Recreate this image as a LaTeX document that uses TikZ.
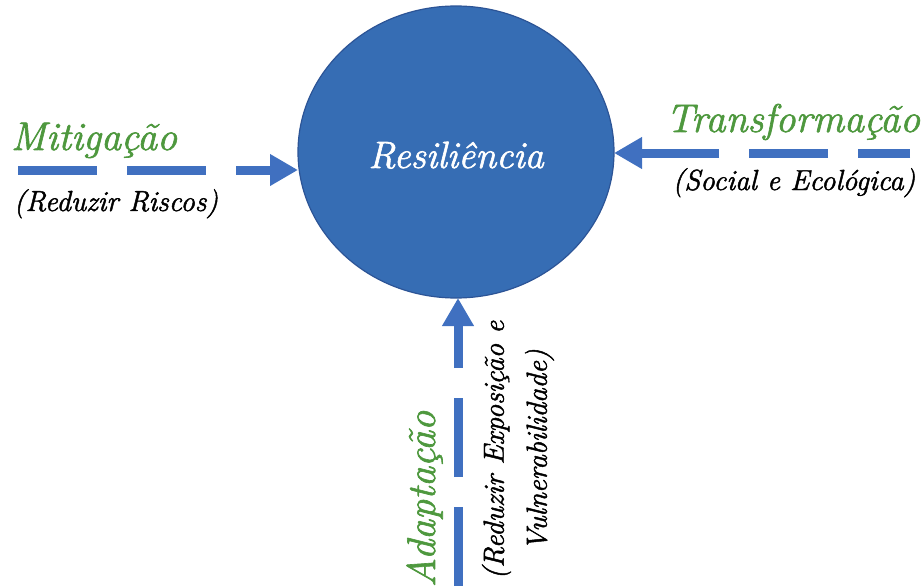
\documentclass[tikz,border=0pt]{standalone}
\usepackage{fontspec}
\setmainfont{Latin Modern Roman}[FakeBold=1.6]
\usetikzlibrary{shapes.geometric,arrows.meta}
\definecolor{resfill}{RGB}{54,109,180}
\definecolor{resline}{RGB}{44,84,150}
\definecolor{arrblue}{RGB}{64,112,192}
\definecolor{txtgreen}{RGB}{78,152,62}
\tikzset{
  core/.style={ellipse, fill=resfill, draw=resline, line width=1.2pt,
    minimum width=316pt, minimum height=292pt, inner sep=0pt, outer sep=0pt,
    text height=32pt, text depth=0pt,
    text=white, font=\fontsize{38}{44}\selectfont\itshape},
  flow/.style={draw=arrblue, line width=9pt, dash pattern=on 79pt off 30pt,
    -{Triangle[width=30pt,length=28pt]}},
  gtitle/.style={inner sep=0pt, text=txtgreen, font=\fontsize{40}{44}\selectfont\itshape},
  subtxt/.style={inner sep=0pt, text=black, font=\fontsize{29}{43}\selectfont\itshape}
}
\begin{document}
\begin{tikzpicture}[x=1pt,y=-1pt]
\useasboundingbox (0,0) rectangle (924,586);
\node[core] (res) at (456,152) {Resiliência};
% Mitigação
\coordinate (m0) at (18,170);
\draw[flow] (m0) -- (m0 -| res.west);
\node[gtitle, anchor=base] (mit) at (94,150) {Mitigação};
\node[subtxt, anchor=base] (mitsub) at (116,211) {(Reduzir Riscos)};
% Transformação
\coordinate (t0) at (910,153);
\draw[flow, dash phase=27pt] (t0) -- (t0 -| res.east);
\node[gtitle, anchor=base] (tra) at (793,132) {Transformação};
\node[subtxt, anchor=base] (trasub) at (794,190) {(Social e Ecológica)};
% Adaptação
\coordinate (a0) at (458,586);
\draw[flow] (a0) -- (a0 |- res.south);
\node[gtitle, anchor=base, rotate=90] (ada) at (435,499) {Adaptação};
\node[subtxt, align=center, rotate=90, anchor=center] (adasub) at (518,450) {(Reduzir Exposição e\\Vulnerabilidade)};
\end{tikzpicture}
\end{document}
